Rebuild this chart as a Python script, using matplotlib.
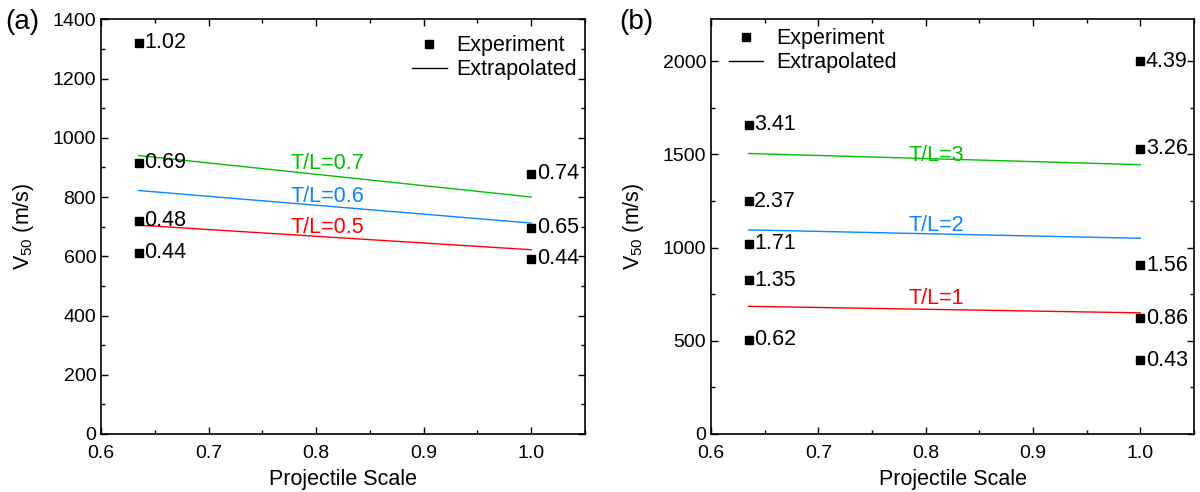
import matplotlib
matplotlib.use("Agg")
import matplotlib.pyplot as plt
from matplotlib.ticker import MultipleLocator

plt.rcParams['font.family'] = ['Liberation Sans', 'DejaVu Sans']
plt.rcParams['mathtext.fontset'] = 'custom'
plt.rcParams['mathtext.rm'] = 'Liberation Sans'

# (a) данные
a_exp_x = [0.635, 0.635, 0.635, 0.635, 1.0, 1.0, 1.0]
a_exp_y = [1320, 915, 720, 612, 878, 697, 592]
a_exp_lbl = ['1.02', '0.69', '0.48', '0.44', '0.74', '0.65', '0.44']
a_line_x = [0.635, 1.0]
a_lines = {'T/L=0.7': [940, 800], 'T/L=0.6': [822, 712], 'T/L=0.5': [705, 622]}
a_line_lbl_y = [914, 803, 698]

# (b) данные
b_exp_x = [0.635] * 5 + [1.0] * 5
b_exp_y = [1660, 1250, 1020, 825, 505, 2000, 1530, 905, 620, 395]
b_exp_lbl = ['3.41', '2.37', '1.71', '1.35', '0.62',
             '4.39', '3.26', '1.56', '0.86', '0.43']
b_line_x = [0.635, 1.0]
b_lines = {'T/L=3': [1505, 1445], 'T/L=2': [1095, 1050], 'T/L=1': [685, 650]}
b_line_lbl_y = [1496, 1120, 729]

colors = ['#00c000', '#0a84ff', '#ff0000']
TICK_FS = 14
FS = 15.5


def setup_axes(ax, ylim, ymaj, ymin):
    ax.set_xlim(0.6, 1.05)
    ax.set_ylim(*ylim)
    ax.xaxis.set_major_locator(MultipleLocator(0.1))
    ax.xaxis.set_minor_locator(MultipleLocator(0.05))
    ax.yaxis.set_major_locator(MultipleLocator(ymaj))
    ax.yaxis.set_minor_locator(MultipleLocator(ymin))
    ax.tick_params(which='both', direction='in', top=True, right=True,
                   labelsize=TICK_FS, width=1.0)
    ax.tick_params(which='major', length=5)
    ax.tick_params(which='minor', length=3)
    ax.tick_params(axis='x', pad=8)
    for s in ax.spines.values():
        s.set_linewidth(1.2)
    ax.xaxis.set_major_formatter(plt.FuncFormatter(lambda v, p: f'{v:.1f}'))
    ax.set_xlabel('Projectile Scale', fontsize=FS)
    ax.set_ylabel('V$_{50}$ (m/s)', fontsize=FS)
    ax.xaxis.set_label_coords(0.5, -0.085)
    ax.yaxis.set_label_coords(-0.135, 0.5)


def draw_panel(ax, ex, ey, elbl, lx, lines, lbl_y):
    ax.plot(ex, ey, 's', color='black', ms=6, label='Experiment',
            clip_on=False, zorder=3)
    for x, y, t in zip(ex, ey, elbl):
        ax.annotate(t, (x, y), xytext=(4, 0), textcoords='offset points',
                    va='center', ha='left', fontsize=FS)
    for (name, ys), c, ty in zip(lines.items(), colors, lbl_y):
        ax.plot(lx, ys, '-', color=c, lw=1.0)
        ax.text(0.81, ty, name, color=c, fontsize=FS, ha='center',
                va='center')
    # линия для легенды
    ax.plot([], [], '-', color='black', lw=1.0, label='Extrapolated')


fig = plt.figure(figsize=(12, 4.92), dpi=100)
ax1 = fig.add_axes([0.0842, 0.1179, 0.4033, 0.8429])
ax2 = fig.add_axes([0.5925, 0.1179, 0.4025, 0.8429])

draw_panel(ax1, a_exp_x, a_exp_y, a_exp_lbl, a_line_x, a_lines, a_line_lbl_y)
setup_axes(ax1, (0, 1400), 200, 100)
ax1.legend(loc='upper right', frameon=False, fontsize=FS,
           bbox_to_anchor=(1.01, 0.993), handlelength=1.6, handletextpad=0.45,
           borderaxespad=0.2, labelspacing=0.15)

draw_panel(ax2, b_exp_x, b_exp_y, b_exp_lbl, b_line_x, b_lines, b_line_lbl_y)
setup_axes(ax2, (0, 2225), 500, 250)
ax2.legend(loc='upper left', frameon=False, fontsize=FS,
           bbox_to_anchor=(0.01, 1.01), handlelength=1.6, handletextpad=0.6,
           borderaxespad=0.2, labelspacing=0.15)

fig.text(0.004, 0.955, '(a)', fontsize=20, va='center', ha='left')
fig.text(0.516, 0.955, '(b)', fontsize=20, va='center', ha='left')

fig.savefig('out.png', dpi=100)
